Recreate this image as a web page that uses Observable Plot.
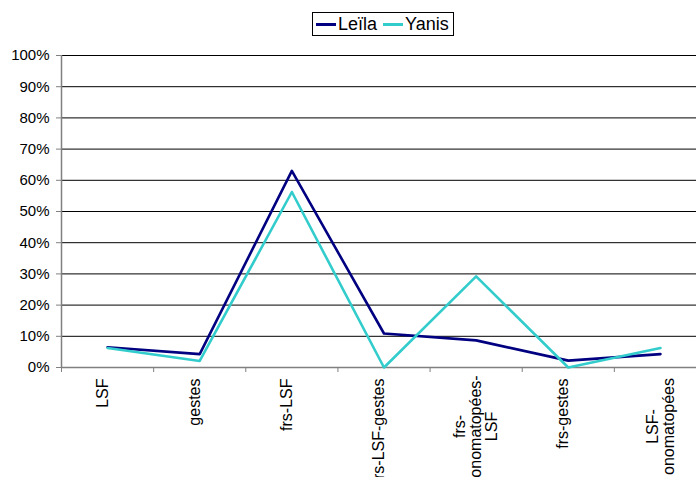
<!DOCTYPE html>
<html><head><meta charset="utf-8">
<script src="https://cdn.jsdelivr.net/npm/d3@7"></script>
<script src="https://cdn.jsdelivr.net/npm/@observablehq/plot@0.6"></script>
<style>
body{margin:0;background:#fff;font-family:"Liberation Sans",Arial,sans-serif;}
#wrap{position:relative;width:696px;height:477px;overflow:hidden;}
#legend{position:absolute;left:312px;top:12px;height:22px;border:1px solid #000;display:flex;align-items:center;font-size:18px;color:#000;padding:0 4px 0 3px;background:#fff;box-sizing:content-box;}
#legend .sw{display:inline-block;width:20px;height:3px;margin-right:2px;}
#legend .it{display:flex;align-items:center;margin-right:6px;}
#legend .it:last-child{margin-right:0;}
</style></head>
<body><div id="wrap"></div>
<script>
const categories = ["LSF","gestes","frs-LSF","frs-LSF-gestes","frs-\nonomatopées-\nLSF","frs-gestes","LSF-\nonomatopées"];
const leila = [6.5, 4.3, 63.0, 10.9, 8.7, 2.2, 4.3];
const yanis = [6.25, 2.1, 56.25, 0, 29.2, 0, 6.25];
const yTicks = [0,10,20,30,40,50,60,70,80,90,100];
const seriesNames = ["Leïla","Yanis"];
const seriesColors = ["#000080","#33CCCC"];

const idx = categories.map((c,i)=>i);
const boundaries = d3.range(categories.length+1).map(i=>i-0.5);
const single = idx.filter(i=>!categories[i].includes("\n"));
const multi = idx.filter(i=>categories[i].includes("\n"));

const chart = Plot.plot({
  width: 696, height: 477,
  marginTop: 55, marginBottom: 110, marginLeft: 61, marginRight: 0,
  style: {fontFamily: '"Liberation Sans", Arial, sans-serif', color: "#000", background: "#fff"},
  x: {domain: [-0.5, categories.length-0.5], range: [61, 706]},
  y: {domain: [0, 100]},
  marks: [
    Plot.ruleY(yTicks.filter(t=>t>0), {y: d=>d, stroke: "#000", strokeWidth: 1}),
    Plot.axisY({ticks: yTicks, tickFormat: d=>d+"%", tickSize: 5, tickPadding: 7, fontSize: 15, stroke: "#808080", fill: "#000"}),
    Plot.axisX({ticks: boundaries, tickFormat: ()=>"", tickSize: 5, stroke: "#808080"}),
    Plot.ruleX([-0.5], {stroke: "#808080", strokeWidth: 1.5}),
    Plot.ruleY([0], {stroke: "#808080", strokeWidth: 1.5}),
    Plot.line(leila, {x: (d,i)=>i, y: d=>d, stroke: seriesColors[0], strokeWidth: 2.6}),
    Plot.line(yanis, {x: (d,i)=>i, y: d=>d, stroke: seriesColors[1], strokeWidth: 2.6}),
    Plot.text(single, {x: i=>i, text: i=>categories[i], frameAnchor: "bottom", rotate: -90, textAnchor: "end", dy: 11, fontSize: 16, fill: "#000"}),
    Plot.text(multi, {x: i=>i, text: i=>categories[i], frameAnchor: "bottom", rotate: -90, textAnchor: "middle", lineAnchor: "middle", dy: 59, fontSize: 16, fill: "#000"})
  ]
});
const wrap = document.getElementById("wrap");
wrap.appendChild(chart);
const lg = document.createElement("div");
lg.id = "legend";
seriesNames.forEach((n,k)=>{
  const it = document.createElement("span"); it.className="it";
  const sw = document.createElement("span"); sw.className="sw"; sw.style.background=seriesColors[k];
  it.appendChild(sw); it.appendChild(document.createTextNode(n));
  lg.appendChild(it);
});
wrap.appendChild(lg);
</script></body></html>
